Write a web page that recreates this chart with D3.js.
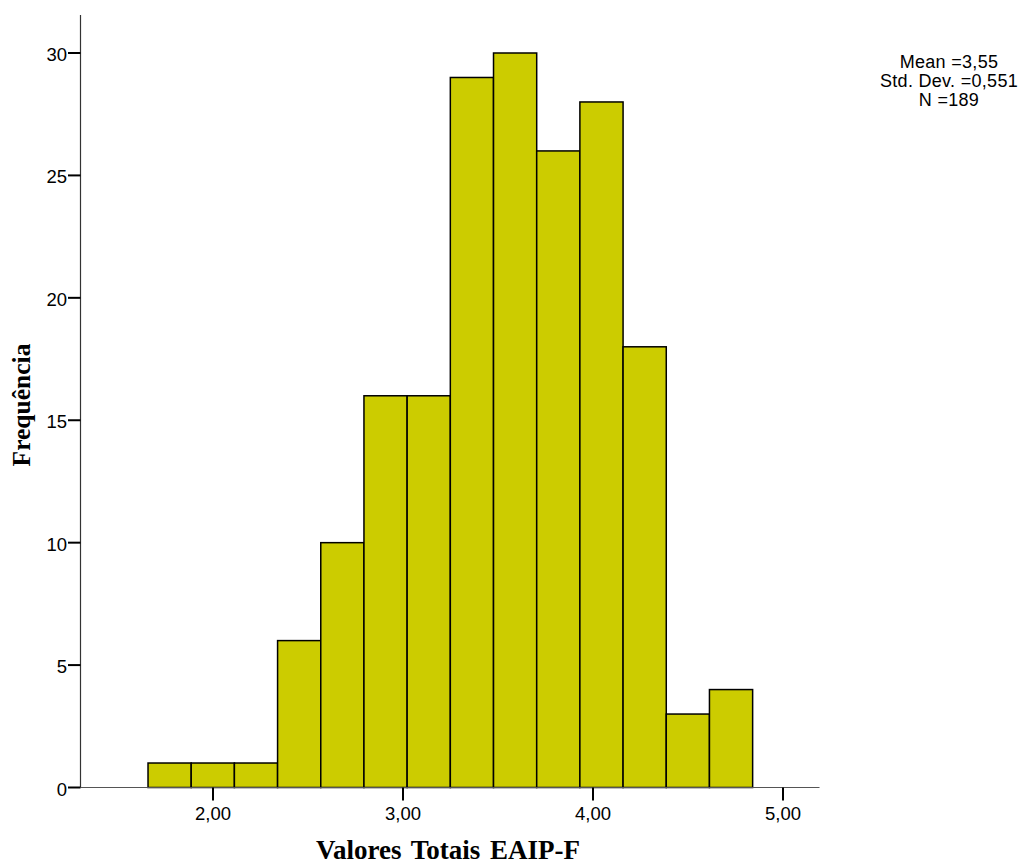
<!DOCTYPE html>
<html>
<head>
<meta charset="utf-8">
<script src="https://d3js.org/d3.v7.min.js"></script>
<style>
  body { margin: 0; background: #fff; }
</style>
</head>
<body>
<div id="vis"></div>
<script>
// histogram bins (lower edges) and counts
const binStart = 1.658;
const binWidth = 0.2273;
const counts = [1, 1, 1, 6, 10, 16, 16, 29, 30, 26, 28, 18, 3, 4];
const xTicks = [2, 3, 4, 5];
const yTicks = [0, 5, 10, 15, 20, 25, 30];
const stats = ['Mean =3,55', 'Std. Dev. =0,551', 'N =189'];

const bins = counts.map((c, i) => ({ x0: binStart + i * binWidth, x1: binStart + (i + 1) * binWidth, n: c }));

const width = 1024, height = 866;
const svg = d3.select('#vis').append('svg').attr('width', width).attr('height', height);

const x = d3.scaleLinear().domain([2, 5]).range([213, 783]);
const y = d3.scaleLinear().domain([0, 30]).range([787.5, 53]);
const xLeft = 80.5, xRight = 819.5, yTop = 15;
const sans = 'Liberation Sans, Arial, sans-serif';
const serif = 'Liberation Serif, Times New Roman, serif';

// bars
svg.selectAll('.bar').data(bins).enter().append('rect')
  .attr('class', 'bar')
  .attr('x', d => x(d.x0))
  .attr('y', d => y(d.n))
  .attr('width', d => x(d.x1) - x(d.x0))
  .attr('height', d => y(0) - y(d.n))
  .attr('fill', '#cccc00')
  .attr('stroke', '#000')
  .attr('stroke-width', 1.5);

// axis lines
svg.append('line').attr('x1', xLeft).attr('x2', xLeft).attr('y1', yTop).attr('y2', y(0))
  .attr('stroke', '#333').attr('stroke-width', 1.2);
svg.append('line').attr('x1', xLeft).attr('x2', xRight).attr('y1', y(0)).attr('y2', y(0))
  .attr('stroke', '#555').attr('stroke-width', 1.2);

// y ticks
const yt = svg.selectAll('.yt').data(yTicks).enter().append('g').attr('class', 'yt');
yt.append('line').attr('x1', 68).attr('x2', xLeft).attr('y1', d => y(d)).attr('y2', d => y(d))
  .attr('stroke', '#000').attr('stroke-width', 2);
yt.append('text').attr('x', 67).attr('y', d => y(d) + 8)
  .attr('text-anchor', 'end')
  .style('font-family', sans).style('font-size', '18.5px')
  .text(d => d);

// x ticks
const xt = svg.selectAll('.xt').data(xTicks).enter().append('g').attr('class', 'xt');
xt.append('line').attr('x1', d => x(d)).attr('x2', d => x(d)).attr('y1', y(0)).attr('y2', y(0) + 13)
  .attr('stroke', '#000').attr('stroke-width', 2);
xt.append('text').attr('x', d => x(d)).attr('y', 820)
  .attr('text-anchor', 'middle')
  .style('font-family', sans).style('font-size', '18.5px')
  .text(d => d3.format('.2f')(d).replace('.', ','));

// axis titles
svg.append('text').attr('x', 448).attr('y', 859).attr('text-anchor', 'middle')
  .style('font-family', serif).style('font-size', '27px')
  .style('font-weight', 'bold').style('word-spacing', '3px').text('Valores Totais EAIP-F');
svg.append('text').attr('transform', 'translate(30,405) rotate(-90)').attr('text-anchor', 'middle')
  .style('font-family', serif).style('font-size', '25.5px')
  .style('font-weight', 'bold').text('Frequência');

// stats box
svg.selectAll('.stat').data(stats).enter().append('text')
  .attr('x', 949).attr('y', (d, i) => 68 + i * 19)
  .attr('text-anchor', 'middle')
  .style('font-family', sans).style('font-size', '18px').style('letter-spacing', '0.3px')
  .text(d => d);
</script>
</body>
</html>
